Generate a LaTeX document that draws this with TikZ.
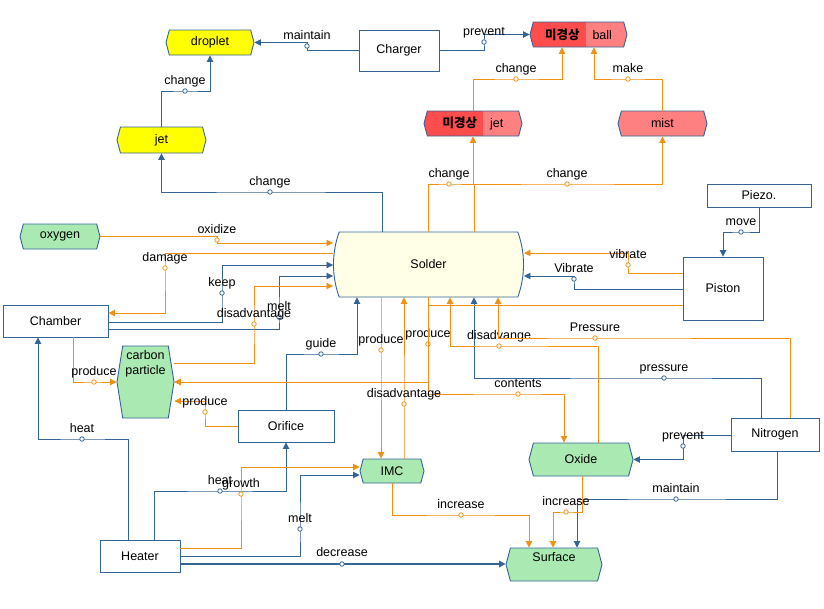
\documentclass[tikz,border=0pt]{standalone}
\usepackage{fontspec}
\setmainfont{Liberation Sans}
\newfontfamily\kr{Noto Sans CJK KR}
\usetikzlibrary{arrows.meta,shapes.symbols,shapes.misc}
\definecolor{lineblue}{RGB}{52,100,150}
\definecolor{lineorange}{RGB}{240,145,20}
\definecolor{tagyellow}{RGB}{255,255,0}
\definecolor{taggreen}{RGB}{170,234,178}
\definecolor{taglight}{RGB}{255,128,128}
\definecolor{tagdark}{RGB}{255,76,76}
\definecolor{soldercream}{RGB}{255,255,232}
\tikzset{
  box/.style={draw=lineblue, line width=0.9pt, fill=white, inner sep=1pt},
  tag/.style={signal, signal to=east and west, signal pointer angle=150,
    draw=lineblue, line width=0.9pt, fill=#1, minimum height=25pt, inner sep=1pt},
  redtag/.style={tag=taglight, path picture={\fill[tagdark]
    (path picture bounding box.south west) rectangle ([xshift=#1]path picture bounding box.north west);}},
  barrel/.style={rounded rectangle, rounded rectangle arc length=40,
    draw=lineblue, line width=0.9pt, inner sep=1pt},
  bline/.style={lineblue, line width=0.9pt, -{Triangle[length=6.5pt,width=6.5pt]}},
  oline/.style={lineorange, line width=0.9pt, -{Triangle[length=6.5pt,width=6.5pt]}},
  mk/.style={circle, draw, fill=white, inner sep=0pt, minimum size=4.5pt, line width=0.8pt},
  lbtext/.style={text=black, inner sep=0pt, text depth=0pt, yshift=3.5pt},
  lb/.style={label={[lbtext]90:#1}}
}
\begin{document}
\begin{tikzpicture}[x=1pt, y=-1pt, font=\fontsize{12.5}{15}\selectfont]
\useasboundingbox (0,0) rectangle (824,608);
% nodes
\node[box, minimum width=80pt, minimum height=41pt] (charger) at (399,50.5) {Charger};
\node[tag=tagyellow, minimum width=88pt] (droplet) at (210,42.5) {droplet};
\node[tag=tagyellow, minimum width=89pt, minimum height=26pt] (jet) at (161.5,140) {jet};
\node[redtag=56pt, minimum width=97pt] (ball) at (578.5,34.5) {{\kr\bfseries 미경상}\hspace{13pt}ball};
\node[redtag=59pt, minimum width=98pt] (mjet) at (473,123.5) {{\kr\bfseries 미경상}\hspace{13pt}jet};
\node[tag=taglight, minimum width=89pt] (mist) at (662.5,123.5) {mist};
\node[box, minimum width=104pt, minimum height=23pt] (piezo) at (759,195.5) {Piezo.};
\node[box, minimum width=80pt, minimum height=63pt] (piston) at (723,288.5) {Piston};
\node[barrel, fill=soldercream, minimum width=185pt, minimum height=65pt] (solder) at (428.5,264.5) {Solder};
\node[tag=taggreen, minimum width=80pt] (oxygen) at (60,236.5) {oxygen};
\node[box, minimum width=105pt, minimum height=32pt] (chamber) at (55.5,321) {Chamber};
\node[tag=taggreen, signal pointer angle=162, minimum width=57pt, minimum height=72pt,
  label={[align=center, yshift=18pt]center:carbon\\particle}] (carbon) at (145.5,382) {};
\node[box, minimum width=96pt, minimum height=32pt] (orifice) at (286,426) {Orifice};
\node[box, minimum width=80pt, minimum height=32pt] (heater) at (140,556) {Heater};
\node[tag=taggreen, minimum width=64pt, minimum height=24pt] (imc) at (392,471) {IMC};
\node[tag=taggreen, minimum width=104pt, minimum height=33pt] (oxide) at (581,459.5) {Oxide};
\node[box, minimum width=88pt, minimum height=33pt] (nitrogen) at (775,434.5) {Nitrogen};
\node[tag=taggreen, minimum width=96pt, minimum height=33pt,
  label={[yshift=7pt]center:Surface}] (surface) at (554,564.5) {};
% blue links
\draw[bline] (charger.west) -| (307,46) node[mk,lb=maintain]{} |- (droplet.east);
\draw[bline] (jet.north) |- (185,91) node[mk,lb=change]{} -| (droplet.south);
\draw[bline] (solder.north -| 382,0) |- (270,192) node[mk,lb=change]{} -| (jet.south);
\draw[bline] (charger.east) -| (484,42) node[mk,lb=prevent]{} |- (ball.west);
\draw[bline] (piezo.south) |- (741,232) node[mk,lb=move]{} -| (piston.north);
\draw[bline] (piston.west |- 0,289) -| (574,279) node[mk,lb=Vibrate]{} |- (solder.east |- 0,276);
\draw[bline] (nitrogen.north -| 761,0) |- (664,378) node[mk,lb=pressure]{} -| (solder.south -| 474,0);
\draw[bline] (orifice.north) |- (321,354) node[mk,lb=guide]{} -| (solder.south -| 357,0);
\draw[bline] (chamber.east |- 0,322) -| (222,293) node[mk,lb=keep]{} |- (solder.west |- 0,265);
\draw[bline] (chamber.east |- 0,329) -| (279,317) node[mk,lb=melt]{} |- (solder.west |- 0,276);
\draw[bline] (heater.north -| 128,0) |- (82,439) node[mk,lb=heat]{} -| (chamber.south -| 38,0);
\draw[bline] (heater.north -| 154,0) |- (220,491) node[mk,lb=heat]{} -| (orifice.south);
\draw[bline] (heater.east |- 0,556) -| (300,529) node[mk,lb=melt]{} |- (imc.west |- 0,475);
\draw[bline, line width=2.2pt] (heater.east |- 0,564) -- (342,564) node[mk,lb=decrease]{} -- (surface.west |- 0,564);
\draw[bline] (nitrogen.west |- 0,435) -| (683,446) node[mk,lb=prevent]{} |- (oxide.east);
\draw[bline] (nitrogen.south -| 777,0) |- (676,499) node[mk,lb=maintain]{} -| (surface.north -| 577,0);
% orange links
\draw[oline] (mjet.north) |- (516,79) node[mk,lb=change]{} -| (ball.south -| 562,0);
\draw[oline] (mist.north) |- (628,79) node[mk,lb=make]{} -| (ball.south -| 594,0);
\draw[oline] (solder.north -| 428,0) |- (449,184) node[mk,lb=change]{} -| (mjet.south);
\draw[oline] (solder.north -| 474,0) |- (567,184) node[mk,lb=change]{} -| (mist.south);
\draw[oline] (piston.west |- 0,273) -| (628,265) node[mk,lb=vibrate]{} |- (solder.east |- 0,253);
\draw[oline] (oxygen.east) -| (217,240) node[mk,lb=oxidize]{} |- (solder.west |- 0,243);
\draw[oline] (solder.west |- 0,253) -| (165,268) node[mk,lb=damage]{} |- (chamber.east |- 0,313);
\draw[oline] (carbon.east |- 0,363) -| (254,324) node[mk,lb=disadvantage]{} |- (solder.west |- 0,286);
\draw[oline] (chamber.south -| 73,0) |- (94,382) node[mk,lb=produce]{} -- (carbon.west);
\draw[oline] (orifice.west) -| (205,412) node[mk,lb=produce]{} |- (carbon.east |- 0,401);
\draw[oline] (piston.west |- 0,305) -| (428,382) -- (carbon.east);
\draw[oline] (solder.south -| 428,0) -- (428,344) node[mk,lb=produce]{} |- (carbon.east);
\draw[oline] (solder.south -| 428,0) |- (518,394) node[mk,lb=contents]{} -| (oxide.north -| 564,0);
\draw[oline] (solder.south -| 381,0) -- (381,350) node[mk,lb=produce]{} -- (imc.north -| 381,0);
\draw[oline] (imc.north -| 404,0) -- (404,404) node[mk,lb=disadvantage]{} -- (solder.south -| 404,0);
\draw[oline] (oxide.north -| 598,0) |- (499,346) node[mk,lb=disadvange]{} -| (solder.south -| 450,0);
\draw[oline] (nitrogen.north -| 790,0) |- (595,338) node[mk,lb=Pressure]{} -| (solder.south -| 498,0);
\draw[oline] (heater.east |- 0,548) -| (241,494) node[mk,lb=growth]{} |- (imc.west |- 0,467);
\draw[oline] (imc.south) |- (461,515) node[mk,lb=increase]{} -| (surface.north -| 529,0);
\draw[oline] (oxide.south -| 582,0) |- (566,512) node[mk,lb=increase]{} -| (surface.north -| 553,0);
\end{tikzpicture}
\end{document}
